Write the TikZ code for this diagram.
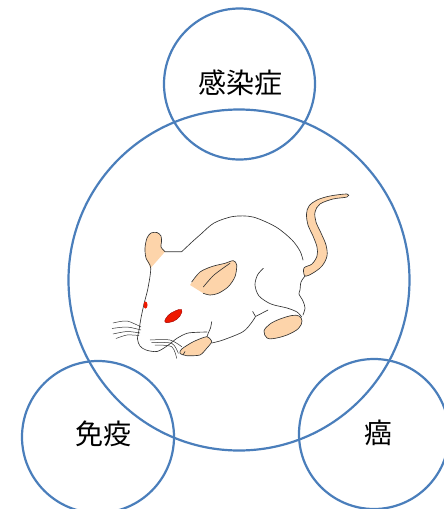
\documentclass[tikz,border=0pt]{standalone}
\usepackage{fontspec}
\newfontfamily\jpfont{Noto Sans CJK JP}
\definecolor{ringblue}{RGB}{74,126,187}
\definecolor{skin}{RGB}{253,212,170}
\definecolor{eyered}{RGB}{238,24,0}
\tikzset{
  ring/.style={draw=ringblue, line width=2.2pt, circle, inner sep=0pt},
  word/.style={font=\jpfont\fontsize{28}{28}\selectfont},
  wire/.style={draw=black!80, line width=0.65pt, line join=round, line cap=round},
  pad/.style={wire, fill=skin},
}

\begin{document}
\begin{tikzpicture}[x=1pt,y=-1pt]
\useasboundingbox (0,0) rectangle (444,509);
\clip (0,0) rectangle (444,509);

\node[ring, minimum size=341pt] (lab)    at (239,280) {};
\node[ring, minimum size=151pt] (infect) at (239.5,84) {};
\node[ring, minimum size=152pt] (immune) at (98,437) {};
\node[ring, minimum size=150pt] (cancer) at (374,434) {};

\node[word] (infectlbl) at (240.5,82.5) {感染症};
\node[word] (immunelbl) at (103,434) {免疫};
\node[word] (cancerlbl) at (378.5,433) {癌};

% rat: ears
\fill[skin] plot[smooth] coordinates {(150.7,268) (146,258) (145,248) (147,238) (151,233) (157,232.5) (161,236) (161.5,242) (161,247) (165,251.7)} -- cycle;
\fill[skin] plot[smooth] coordinates {(190,285) (200,272) (212,266.5) (225,263.3) (233.3,260.7) (236.7,265) (235,276.7) (228.3,286.7) (218.3,293.3) (210,295) (203.3,293.3)} -- cycle;
\draw[wire] plot[smooth] coordinates {(191.7,282) (200,272) (212,266.5) (225,263.3) (233.3,260.7) (236.7,265) (235,276.7) (228.3,286.7) (218.3,293.3) (210,295) (203.3,293.3)};
\draw[wire] plot[smooth] coordinates {(203.3,287) (214,275) (230,263.3)};

% head and back
\draw[wire] plot[smooth] coordinates {(165,251.7) (161,247) (161.5,242) (161,236) (157,232.5) (151,233) (147,238) (145,248) (146,258) (150.7,268) (148,288) (144,304) (141,318) (139,330) (137.5,339) (140,346) (146,350) (157,351.5) (167,346) (177,338.3) (187,333.3) (197,332.3) (207,332)};
\draw[wire] (165,251.7) -- (181.7,251.7) plot[smooth] coordinates {(181.7,251.7) (192,242) (201,234) (214,223) (233,216.5) (253,217) (276,227) (292,240) (300,251) (303,260)};

% tail
\draw[pad] plot[smooth cycle, tension=0.55] coordinates {(347,194) (330,196) (317,200) (309,206) (306.5,214) (308,225) (313,236) (317,247) (317,256) (312,264) (304,268) (305,276) (313,273) (322,266) (327,256) (326,245) (321,233) (316,222) (315,212) (320,204) (333,199) (347,197)};

% hind leg
\draw[wire] plot[smooth] coordinates {(305,276) (301,282) (300,290) (299,294) (303,301) (305,308) (303,315)};
\draw[wire] plot[smooth] coordinates {(263.3,268.3) (257.5,275) (255,285) (259,296) (271,304) (287,308) (297,312) (301.7,317)};
\draw[wire] plot[smooth] coordinates {(211.7,343) (223,340) (243,331.7) (252,322) (255.5,316.5)};
\draw[wire] (252.7,311.5) -- (255.5,316.5) -- (268,310);
\draw[pad] plot[smooth cycle, tension=0.6] coordinates {(264,331) (270,324) (280,319) (292,315.5) (299,316) (302,321) (298.5,328.5) (287,335) (274,338.5) (267,338)};

% front leg
\draw[wire] plot[smooth] coordinates {(211.7,321.7) (210.5,328) (208.3,333) (207,336.7)};
\draw[pad] plot[smooth cycle, tension=0.4] coordinates {(180,353.3) (181.7,349) (193.3,341.7) (206.7,336.7) (211.7,341.7) (206.7,348.3) (200,355) (186.7,355.7)};
\draw[wire] (185,351.5) -- (183,355);

% eyes
\draw[draw=red!60!black, line width=0.4pt, fill=eyered] plot[smooth cycle, tension=0.7] coordinates {(165,322) (168,315.5) (175,311) (181.7,309.5) (180,316) (173,321.5)};
\fill[eyered] (145.5,305) ellipse [x radius=2pt, y radius=3.5pt];

% whiskers
\draw[wire, line width=0.5pt] plot[smooth] coordinates {(113,323) (127,321) (141,327)};
\draw[wire, line width=0.5pt] plot[smooth] coordinates {(112,328.5) (127,327) (141,330)};
\draw[wire, line width=0.5pt] plot[smooth] coordinates {(113,334) (127,331.5) (140,333)};
\draw[wire, line width=0.5pt] plot[smooth] coordinates {(116,338.5) (127,335) (139,335.5)};
\draw[wire, line width=0.5pt] plot[smooth] coordinates {(150,340) (170,340) (181.7,346.7)};
\draw[wire, line width=0.5pt] plot[smooth] coordinates {(151.7,342.7) (171.7,343.3) (178.3,353.3)};
\draw[wire, line width=0.5pt] plot[smooth] coordinates {(155,345) (171.7,346.7) (176.7,358.3)};
\end{tikzpicture}
\end{document}
